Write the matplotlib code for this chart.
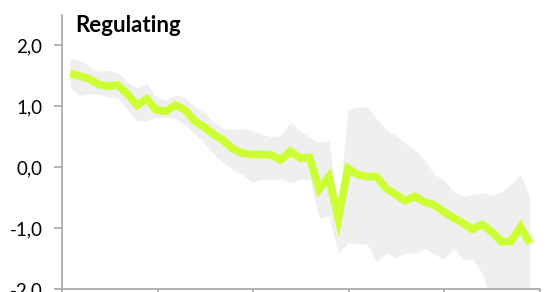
import matplotlib
matplotlib.use("Agg")
import matplotlib.pyplot as plt
import numpy as np

# data
mean_values = [1.54, 1.50, 1.45, 1.36, 1.33, 1.35, 1.20, 1.02, 1.12, 0.94,
               0.92, 1.02, 0.94, 0.76, 0.66, 0.54, 0.44, 0.30, 0.23, 0.21,
               0.21, 0.20, 0.12, 0.26, 0.15, 0.16, -0.36, -0.16, -0.84, -0.02,
               -0.12, -0.15, -0.16, -0.35, -0.45, -0.55, -0.48, -0.57, -0.62, -0.73,
               -0.83, -0.92, -1.02, -0.94, -1.06, -1.22, -1.22, -0.98, -1.25]
upper_band = [1.79, 1.76, 1.66, 1.57, 1.59, 1.55, 1.40, 1.30, 1.38, 1.15,
              1.10, 1.20, 1.13, 1.00, 0.90, 0.74, 0.64, 0.62, 0.64, 0.60,
              0.54, 0.50, 0.52, 0.74, 0.60, 0.49, 0.41, 0.44, -0.75, 0.95,
              0.98, 1.00, 0.80, 0.62, 0.52, 0.40, 0.28, 0.12, -0.12, -0.20,
              -0.40, -0.48, -0.45, -0.42, -0.46, -0.40, -0.28, -0.12, -0.50]
lower_band = [1.31, 1.18, 1.21, 1.20, 1.15, 1.13, 0.95, 0.75, 0.77, 0.82,
              0.82, 0.80, 0.70, 0.55, 0.40, 0.22, 0.08, -0.04, -0.12, -0.25,
              -0.20, -0.20, -0.19, -0.26, -0.20, -0.20, -0.84, -0.80, -1.41, -1.25,
              -1.25, -1.27, -1.54, -1.41, -1.49, -1.41, -1.41, -1.33, -1.43, -1.51,
              -1.33, -1.51, -1.51, -1.74, -2.20, -2.30, -2.30, -2.30, -2.30]
y_ticks = [-2.0, -1.0, 0.0, 1.0, 2.0]
y_tick_labels = ["-2,0", "-1,0", "0,0", "1,0", "2,0"]
title = "Regulating"

line_color = "#CCFF33"
band_color = "#EFEFEF"
axis_color = "#A6A6A6"

fig = plt.figure(figsize=(5.6, 2.92), dpi=100)
ax = fig.add_axes([62 / 560, 3 / 292, 478 / 560, 274 / 292])

x = np.arange(len(mean_values))
ax.fill_between(x, lower_band, upper_band, color=band_color, linewidth=0)
ax.plot(x, mean_values, color=line_color, linewidth=5.6,
        solid_joinstyle="miter", solid_capstyle="butt")

# x positions: first point ~8px from axis, spacing ~9.58px
x_left = -8 / 9.58
x_right = len(mean_values) - 1 + 10 / 9.58
ax.set_xlim(x_left, x_right)
ax.set_ylim(-2.0, 2.5)

ax.set_xticks(np.linspace(x_left, x_right, 6))
ax.set_xticklabels([])
ax.set_yticks(y_ticks)
ax.set_yticklabels(y_tick_labels, family=["Lato", "DejaVu Sans"], fontsize=13.5)

for side in ["top", "right"]:
    ax.spines[side].set_visible(False)
for side in ["left", "bottom"]:
    ax.spines[side].set_color(axis_color)
    ax.spines[side].set_linewidth(1.2)
ax.tick_params(axis="y", direction="out", length=6, width=1.2, color=axis_color, pad=8)
ax.tick_params(axis="x", direction="out", length=6, width=1.2, color=axis_color)

fig.text(75 / 560, 1 - 32 / 292, title, family=["Lato", "DejaVu Sans"],
         fontsize=16, fontweight="bold", va="baseline", ha="left")

fig.savefig("out.png", dpi=100)
